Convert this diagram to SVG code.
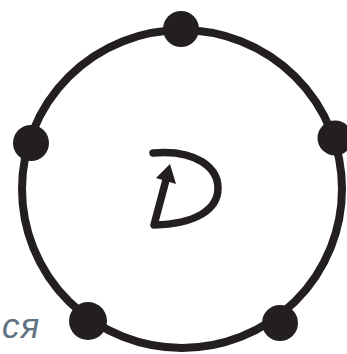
<svg xmlns="http://www.w3.org/2000/svg" width="347" height="354" viewBox="0 0 347 354">
<style>
.ring{fill:none;stroke:#231f20;stroke-width:8}
.dot{fill:#231f20}
.d{fill:none;stroke:#231f20;stroke-width:7.5;stroke-linecap:round;stroke-linejoin:round}
.lbl{font-family:"Liberation Sans","DejaVu Sans",sans-serif;font-style:italic;font-size:35px;fill:#5f7382;letter-spacing:1px}
</style>
<rect width="347" height="354" fill="#ffffff"/>
<g id="connectors">
<ellipse class="ring" cx="182" cy="189" rx="160" ry="159"/>
</g>
<g id="node-top"><circle class="dot" cx="181" cy="29" r="18"/></g>
<g id="node-left"><circle class="dot" cx="31" cy="143" r="18"/></g>
<g id="node-right"><circle class="dot" cx="335" cy="138" r="17.5"/></g>
<g id="node-bottom-left"><circle class="dot" cx="88" cy="321" r="19"/></g>
<g id="node-bottom-right"><circle class="dot" cx="280" cy="323" r="18"/></g>
<g id="center-symbol">
<path class="d" d="M153,153 C196,149 218,168 218,188 C218,210 195,224 154,225 L166,180"/>
<polygon class="dot" points="170,164 156,178 176,184"/>
</g>
<g id="label"><text class="lbl" x="2" y="338">ся</text></g>
</svg>
